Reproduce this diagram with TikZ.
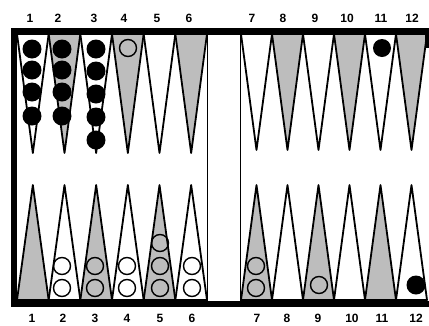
\documentclass[tikz,border=0pt]{standalone}
\usepackage{fontspec}
\setmainfont{Liberation Sans}
\begin{document}
\begin{tikzpicture}[x=1pt,y=-1pt,
  pt/.style={draw=black,line width=1.8pt,line join=round},
  shaded/.style={pt,fill=black!26},
  plain/.style={pt,fill=white},
  blk/.style={circle,fill=black,minimum size=19pt,inner sep=0pt},
  wht/.style={circle,draw=black,line width=1.4pt,minimum size=17pt,inner sep=0pt},
  num/.style={font=\bfseries\fontsize{12}{12}\selectfont,inner sep=0pt}]
\useasboundingbox (0,0) rectangle (429,325);
\clip (0,0) rectangle (429,325);
% left half points
\foreach \i in {0,...,5}{
  \pgfmathsetmacro{\xl}{17+\i*31.667}
  \pgfmathsetmacro{\xm}{\xl+15.833}
  \pgfmathsetmacro{\xr}{\xl+31.667}
  \pgfmathtruncatemacro{\odd}{mod(\i,2)}
  \ifnum\odd=1
    \path[shaded] (\xl,34) -- (\xm,153) -- (\xr,34) -- cycle;
    \path[plain] (\xl,300) -- (\xm,185) -- (\xr,300) -- cycle;
  \else
    \path[plain] (\xl,34) -- (\xm,153) -- (\xr,34) -- cycle;
    \path[shaded] (\xl,300) -- (\xm,185) -- (\xr,300) -- cycle;
  \fi
}
% right half points
\foreach \i in {0,...,5}{
  \pgfmathsetmacro{\xl}{241+\i*31}
  \pgfmathsetmacro{\xm}{\xl+15.5}
  \pgfmathsetmacro{\xr}{\xl+31}
  \pgfmathtruncatemacro{\odd}{mod(\i,2)}
  \ifnum\odd=1
    \path[shaded] (\xl,34) -- (\xm,150) -- (\xr,34) -- cycle;
    \path[plain] (\xl,300) -- (\xm,185) -- (\xr,300) -- cycle;
  \else
    \path[plain] (\xl,34) -- (\xm,150) -- (\xr,34) -- cycle;
    \path[shaded] (\xl,300) -- (\xm,185) -- (\xr,300) -- cycle;
  \fi
}
% frame
\fill[black] (11,28) rectangle (429,35);
\fill[black] (11,301) rectangle (429,307);
\fill[black] (11,28) rectangle (17,307);
\fill[black] (425,28) rectangle (429,48);
\draw[line width=1.5pt] (207.5,35) -- (207.5,301);
\draw[line width=1.3pt] (240.5,35) -- (240.5,301);
% top checkers
\foreach \y [count=\k] in {49,70,92,116}{\node[blk] (ta\k) at (32,\y) {};}
\foreach \y [count=\k] in {49,70,92,116}{\node[blk] (tb\k) at (62,\y) {};}
\foreach \y [count=\k] in {49,71,94,117,140}{\node[blk] (tc\k) at (96,\y) {};}
\node[wht] (td1) at (128,48) {};
\node[blk,minimum size=18pt] (tk1) at (382,48) {};
% bottom checkers
\foreach \x/\n in {62/b2,95/b3,127/b4,192/b6,256/b7}{
  \node[wht] (\n a) at (\x,288) {};
  \node[wht] (\n b) at (\x,266) {};
}
\node[wht] (b5a) at (160,288) {};
\node[wht] (b5b) at (160,266) {};
\node[wht] (b5c) at (160,243) {};
\node[wht] (b9a) at (319,285) {};
\node[blk] (b12a) at (416,285) {};
% numbers
\foreach \x [count=\k] in {30,58,94,124,157,189,252,283,315,347,381,412}{
  \node[num] (nt\k) at (\x,18) {\k};
}
\foreach \x [count=\k] in {32,63,95,127,160,192,257,287,318,352,382,416}{
  \node[num] (nb\k) at (\x,318) {\k};
}
\end{tikzpicture}
\end{document}
